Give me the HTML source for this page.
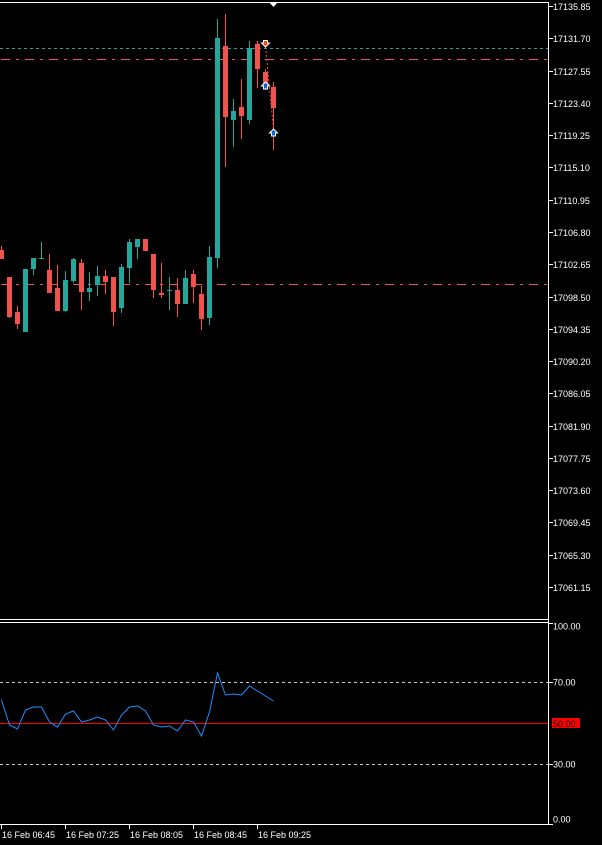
<!DOCTYPE html>
<html><head><meta charset="utf-8"><style>
html,body{margin:0;padding:0;background:#000;}
svg{display:block;}
text{font-family:"Liberation Sans",Arial,sans-serif;font-size:9px;fill:#fff;}
</style></head><body>
<svg width="602" height="845" viewBox="0 0 602 845" xmlns="http://www.w3.org/2000/svg">
<rect x="0" y="0" width="602" height="845" fill="#000"/>
<g shape-rendering="crispEdges">
<!-- horizontal price lines -->
<line x1="0" y1="48.5" x2="548" y2="48.5" stroke="#26a69a" stroke-width="1" stroke-dasharray="3 3"/>
<line x1="0" y1="59.5" x2="548" y2="59.5" stroke="#ef5350" stroke-width="1" stroke-dasharray="9 6 3 6" stroke-dashoffset="23"/>
<line x1="0" y1="284.5" x2="548" y2="284.5" stroke="#ef5350" stroke-width="1" stroke-dasharray="9 6 3 6" stroke-dashoffset="23"/>
</g>
<g id="candles" shape-rendering="crispEdges"></g>
<!-- trade line -->
<line x1="265.5" y1="47" x2="273.5" y2="129" stroke="#ef5350" stroke-width="1" stroke-dasharray="2 2"/>
<!-- arrows -->
<polygon points="263.5,40.5 267.5,40.5 267.5,43 269.5,43 265.5,47 261.5,43 263.5,43" fill="#f04a1e" stroke="#fff" stroke-width="1"/>
<polygon points="265.5,82 269.5,86 267.5,86 267.5,89 263.5,89 263.5,86 261.5,86" fill="#1565c0" stroke="#fff" stroke-width="1"/>
<polygon points="273.5,129 277.5,133 275.5,133 275.5,136 271.5,136 271.5,133 269.5,133" fill="#1565c0" stroke="#fff" stroke-width="1"/>
<!-- top marker -->
<polygon points="269,2 278,2 273.5,7" fill="#fff"/>
<!-- RSI levels -->
<g shape-rendering="crispEdges">
<line x1="0" y1="682.5" x2="548" y2="682.5" stroke="#c8c8c8" stroke-width="1" stroke-dasharray="3 3"/>
<line x1="0" y1="764.5" x2="548" y2="764.5" stroke="#c8c8c8" stroke-width="1" stroke-dasharray="3 3"/>
<line x1="0" y1="723.5" x2="548" y2="723.5" stroke="#ff0000" stroke-width="1"/>
</g>
<polyline id="rsi" fill="none" stroke="#1e90ff" stroke-width="1" points=""/>
<!-- borders -->
<g shape-rendering="crispEdges" stroke="#fff" stroke-width="1">
<line x1="0" y1="2.5" x2="549" y2="2.5"/>
<line x1="548.5" y1="2" x2="548.5" y2="825"/>
<line x1="0" y1="619.5" x2="549" y2="619.5"/>
<line x1="0" y1="622.5" x2="549" y2="622.5"/>
<line x1="0" y1="824.5" x2="549" y2="824.5"/>
</g>
<g id="ticks" shape-rendering="crispEdges" stroke="#fff" stroke-width="1"></g>
<g id="labels"></g>
<!-- RSI labels -->
<text x="553" y="629.5">100.00</text>
<text x="553" y="685.5">70.00</text>
<rect x="552" y="718" width="28" height="10" fill="#ff0000"/>
<text x="553" y="727" style="fill:#000">50.00</text>
<text x="553" y="767.5">30.00</text>
<text x="553" y="822.5">0.00</text>
<!-- time labels -->
<text x="2" y="838">16 Feb 06:45</text>
<text x="66" y="838">16 Feb 07:25</text>
<text x="130" y="838">16 Feb 08:05</text>
<text x="194" y="838">16 Feb 08:45</text>
<text x="258" y="838">16 Feb 09:25</text>
</svg>
<script>
var NS="http://www.w3.org/2000/svg";
var d=[
["R",250,259,246,259],["R",277,317,277,318],["R",312,324,306,329],["G",269,332,269,332],
["G",258,269,258,275],["G",258,259,242,259],["R",270,293,254,293],["R",288,311,265,311],
["G",280,311,271,312],["G",259,281,258,283],["R",263,292,259,310],["G",288,292,272,301],
["G",276,285,266,296],["R",276,282,270,294],["R",277,312,277,326],["G",267,308,264,313],
["G",242,268,239,283],["G",239,247,239,259],["R",239,251,239,251],["R",254,290,254,298],
["R",293,295,263,298],["G",290,291,277,310],["R",290,304,278,317],["G",278,304,270,304],
["R",274,287,270,303],["R",294,319,286,330],["G",257,318,246,325],["G",38,258,19,268],
["R",46,117,14,167],["G",111,120,99,147],["R",107,116,79,139],["G",48,120,41,124],
["R",44,69,41,88],["R",72,85,69,90],["R",87,108,82,150]];
var g=document.getElementById("candles");
d.forEach(function(c,k){
 var col=c[0]=="R"?"#ef5350":"#26a69a";
 var w=document.createElementNS(NS,"rect");
 w.setAttribute("x",8*k+1);w.setAttribute("y",c[3]);w.setAttribute("width",1);w.setAttribute("height",Math.max(1,c[4]-c[3]));w.setAttribute("fill",col);g.appendChild(w);
 var b=document.createElementNS(NS,"rect");
 b.setAttribute("x",8*k-1);b.setAttribute("y",c[1]);b.setAttribute("width",5);b.setAttribute("height",Math.max(1,c[2]-c[1]));b.setAttribute("fill",col);g.appendChild(b);
});
var r=[700,725,729,710,707,707,722,727,714,711,722,720,717,720,730,715,707,706,711,725,727,726,731,720,722,736,712,673,695,694,695,686,691,696,701];
var pts=r.map(function(y,k){return (1.5+8*k)+","+y;}).join(" ");
document.getElementById("rsi").setAttribute("points",pts);
var labs=["17135.85","17131.70","17127.55","17123.40","17119.25","17115.10","17110.95","17106.80","17102.65","17098.50","17094.35","17090.20","17086.05","17081.90","17077.75","17073.60","17069.45","17065.30","17061.15"];
var tg=document.getElementById("ticks"),lg=document.getElementById("labels");
labs.forEach(function(s,i){
 var y=Math.round(6+i*32.28);
 var l=document.createElementNS(NS,"line");
 l.setAttribute("x1",548);l.setAttribute("x2",553);l.setAttribute("y1",y+0.5);l.setAttribute("y2",y+0.5);tg.appendChild(l);
 var t=document.createElementNS(NS,"text");
 t.setAttribute("x",553);t.setAttribute("y",y+4);t.textContent=s;lg.appendChild(t);
});
[623,682,764,824].forEach(function(y){
 var l=document.createElementNS(NS,"line");
 l.setAttribute("x1",548);l.setAttribute("x2",553);l.setAttribute("y1",y+0.5);l.setAttribute("y2",y+0.5);tg.appendChild(l);
});
[1,65,129,193,257].forEach(function(x){
 var l=document.createElementNS(NS,"line");
 l.setAttribute("x1",x+0.5);l.setAttribute("x2",x+0.5);l.setAttribute("y1",825);l.setAttribute("y2",829);tg.appendChild(l);
});
</script>
</body></html>
